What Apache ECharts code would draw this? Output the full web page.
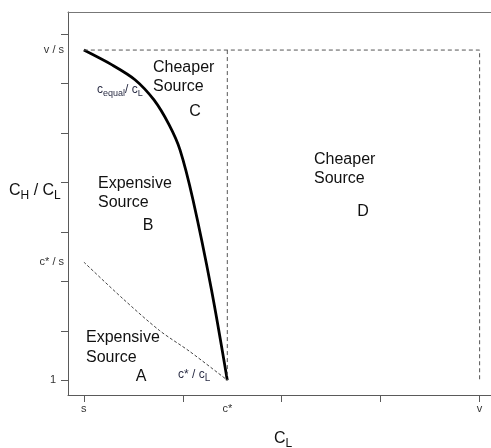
<!DOCTYPE html>
<html>
<head>
<meta charset="utf-8">
<script src="https://cdn.jsdelivr.net/npm/echarts@6/dist/echarts.min.js"></script>
<style>
  html, body { margin: 0; padding: 0; background: #fff; }
  #chart { width: 491px; height: 448px; }
</style>
</head>
<body>
<div id="chart"></div>
<script>
// Cost levels on the c_L axis
const S = 1.0, C_STAR = 2.45, V = 5.0;
// Ratio levels on the c_H / c_L axis
const R_ONE = 1, R_CSTAR_S = 3.39, R_V_S = 7.68;

const xTicks = [1, 2, 3, 4, 5];
const yTicks = [1, 2, 3, 4, 5, 6, 7, 8];
const xLabelValues = [S, C_STAR, V];
const xLabelTexts = ['s', 'c*', 'v'];
const yLabelValues = [R_ONE, R_CSTAR_S, R_V_S];
const yLabelTexts = ['1', 'c* / s', 'v / s'];

// c_equal / c_L boundary (solid)
const cEqualX = [S, 1.285, 1.517, 1.709, 1.861, 1.972, 2.103, 2.290, C_STAR];
const cEqualY = [R_V_S, 7.38, 7.08, 6.67, 6.17, 5.66, 4.65, 2.83, R_ONE];
// c* / c_L boundary (dashed)
const cStarX = [S, 1.394, 1.768, 2.071, C_STAR];
const cStarY = [R_CSTAR_S, 2.65, 2.0, 1.58, R_ONE];

const zip = (xs, ys) => xs.map((x, i) => [x, ys[i]]);

const chart = echarts.init(document.getElementById('chart'), null, { renderer: 'canvas' });

const axisGray = '#5a5a5a';
const labelFont = '"Liberation Sans", Arial, sans-serif';
const dashStyle = { color: '#555', width: 1, type: [4, 3] };
const X_MIN = 0.84, X_MAX = 5.115;

const txt = (x, y, text, align) => ({
  type: 'text', x: x, y: y, silent: true,
  style: { text: text, font: '16px ' + labelFont, fill: '#111', textAlign: align || 'left', textVerticalAlign: 'middle' }
});

chart.setOption({
  animation: false,
  backgroundColor: '#fff',
  grid: { left: 68, right: 0, top: 12, bottom: 53, show: false },
  xAxis: [
    {
      type: 'value', min: X_MIN, max: X_MAX,
      axisLine: { show: true, lineStyle: { color: axisGray } },
      splitLine: { show: false },
      axisTick: { show: true, length: 7, customValues: xTicks, lineStyle: { color: axisGray } },
      axisLabel: {
        customValues: xLabelValues, margin: 8,
        color: '#333', fontSize: 11, fontFamily: labelFont,
        formatter: v => xLabelTexts[xLabelValues.indexOf(v)]
      }
    },
    {
      // top edge of the plot frame
      type: 'value', position: 'top', min: X_MIN, max: X_MAX,
      axisLine: { show: true, lineStyle: { color: '#777' } },
      axisTick: { show: false }, axisLabel: { show: false }, splitLine: { show: false }
    }
  ],
  yAxis: {
    type: 'value', min: 0.7, max: 8.45,
    axisLine: { show: true, lineStyle: { color: axisGray } },
    splitLine: { show: false },
    axisTick: { show: true, length: 7, customValues: yTicks, lineStyle: { color: axisGray } },
    axisLabel: {
      customValues: yLabelValues, margin: 4,
      color: '#333', fontSize: 11, fontFamily: labelFont,
      formatter: v => {
        const t = yLabelTexts[yLabelValues.indexOf(v)];
        return v === R_ONE ? '{one|' + t + '}' : t;
      },
      rich: { one: { padding: [0, 8, 0, 0], fontSize: 11, color: '#333', fontFamily: labelFont } }
    }
  },
  series: [
    {
      type: 'line', data: zip(cEqualX, cEqualY), showSymbol: false,
      smooth: 0.3,
      lineStyle: { color: '#000', width: 2.8 }
    },
    {
      type: 'line', data: zip(cStarX, cStarY), showSymbol: false,
      smooth: 0.3,
      lineStyle: { color: '#444', width: 1, type: [3, 2] }
    },
    {
      type: 'line', data: [[S, R_V_S], [V, R_V_S], [V, R_ONE]], showSymbol: false,
      lineStyle: dashStyle
    },
    {
      type: 'line', data: [[C_STAR, R_V_S], [C_STAR, R_ONE]], showSymbol: false,
      lineStyle: dashStyle
    }
  ],
  graphic: [
    txt(153, 68, 'Cheaper'), txt(153, 87, 'Source'), txt(195, 112, 'C', 'center'),
    txt(98, 184, 'Expensive'), txt(98, 203, 'Source'), txt(148, 226, 'B', 'center'),
    txt(86, 338, 'Expensive'), txt(86, 358, 'Source'), txt(141, 377, 'A', 'center'),
    txt(314, 160, 'Cheaper'), txt(314, 179, 'Source'), txt(363, 212, 'D', 'center'),
    {
      type: 'text', x: 97, y: 90, silent: true,
      style: {
        text: '{m|c}{s|equal}{m|/ c}{s|L}', textVerticalAlign: 'middle',
        rich: {
          m: { fontSize: 12, fontFamily: labelFont, fill: '#2a2d45', lineHeight: 16, verticalAlign: 'middle' },
          s: { fontSize: 9, fontFamily: labelFont, fill: '#2a2d45', lineHeight: 9, verticalAlign: 'bottom' }
        }
      }
    },
    {
      type: 'text', x: 178, y: 375, silent: true,
      style: {
        text: '{m|c* / c}{s|L}', textVerticalAlign: 'middle',
        rich: {
          m: { fontSize: 12, fontFamily: labelFont, fill: '#2a2d45', lineHeight: 16, verticalAlign: 'middle' },
          s: { fontSize: 10, fontFamily: labelFont, fill: '#2a2d45', lineHeight: 10, verticalAlign: 'bottom' }
        }
      }
    },
    {
      type: 'text', x: 9, y: 191, silent: true,
      style: {
        text: '{m|C}{s|H}{m| / C}{s|L}', textVerticalAlign: 'middle',
        rich: {
          m: { fontSize: 16, fontFamily: labelFont, fill: '#111', lineHeight: 22, verticalAlign: 'middle' },
          s: { fontSize: 12, fontFamily: labelFont, fill: '#111', lineHeight: 12, verticalAlign: 'bottom' }
        }
      }
    },
    {
      type: 'text', x: 274, y: 439, silent: true,
      style: {
        text: '{m|C}{s|L}', textVerticalAlign: 'middle',
        rich: {
          m: { fontSize: 16, fontFamily: labelFont, fill: '#111', lineHeight: 22, verticalAlign: 'middle' },
          s: { fontSize: 12, fontFamily: labelFont, fill: '#111', lineHeight: 12, verticalAlign: 'bottom' }
        }
      }
    }
  ]
});
</script>
</body>
</html>
